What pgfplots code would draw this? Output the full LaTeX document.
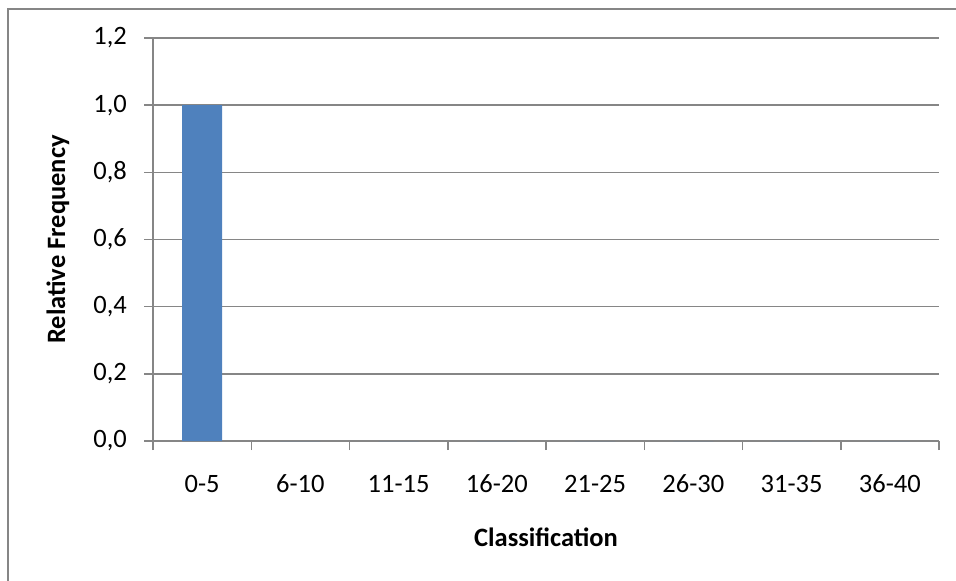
\documentclass[border=0pt]{standalone}
\usepackage{pgfplots}
\pgfplotsset{compat=1.18}
\usepackage{fontspec}
\setmainfont{Carlito}
\definecolor{barblue}{HTML}{4F81BD}
\definecolor{axisgray}{HTML}{868686}
\begin{document}
\fontsize{26.5pt}{31pt}\selectfont
\begin{tikzpicture}[font=\fontsize{26.5pt}{31pt}\selectfont]
  % chart area and its frame
  \path[use as bounding box] (0pt,0pt) rectangle (956pt,-581pt);
  \draw[axisgray, line width=2pt] (7.5pt,-582pt) -- (7.5pt,-8.5pt) -- (957pt,-8.5pt);
  \begin{axis}[
    at={(153pt,-441pt)}, anchor=south west,
    scale only axis, width=786pt, height=403pt,
    xmin=-0.5, xmax=7.5, ymin=0, ymax=1.2,
    axis x line=bottom, axis y line=left,
    axis line style={axisgray, line width=1.5pt, -},
    xtick={0,...,7},
    xticklabels={0-5,6-10,11-15,16-20,21-25,26-30,31-35,36-40},
    major x tick style={draw=none},
    minor xtick={-0.5,0.5,...,7.5},
    minor x tick style={axisgray, line width=1.5pt},
    ytick={0,0.2,...,1.2},
    y tick style={axisgray, line width=1.5pt},
    tick align=outside,
    major tick length=9pt, minor tick length=9pt,
    ymajorgrids,
    grid style={axisgray, line width=1.5pt},
    /pgf/number format/.cd, fixed, fixed zerofill, precision=1, use comma, assume math mode=true,
    /pgfplots/.cd,
    tick label style={font=\fontsize{26.5pt}{31pt}\selectfont},
    label style={font=\fontsize{26.5pt}{31pt}\selectfont\bfseries},
    yticklabel style={anchor=east, inner sep=0pt, xshift=-17pt},
    xticklabel style={anchor=base, inner sep=0pt, yshift=-42pt},
    xlabel={Classification},
    ylabel={Relative Frequency},
    xlabel style={at={(axis description cs:0.5,0)}, anchor=center, yshift=-96pt},
    ylabel style={at={(axis description cs:0,0.5)}, anchor=center, yshift=95pt},
    ybar, bar width=40pt,
  ]
    \addplot[fill=barblue, draw=none] coordinates {
      (0,1.0) (1,0) (2,0) (3,0) (4,0) (5,0) (6,0) (7,0)
    };
  \end{axis}
\end{tikzpicture}
\end{document}
